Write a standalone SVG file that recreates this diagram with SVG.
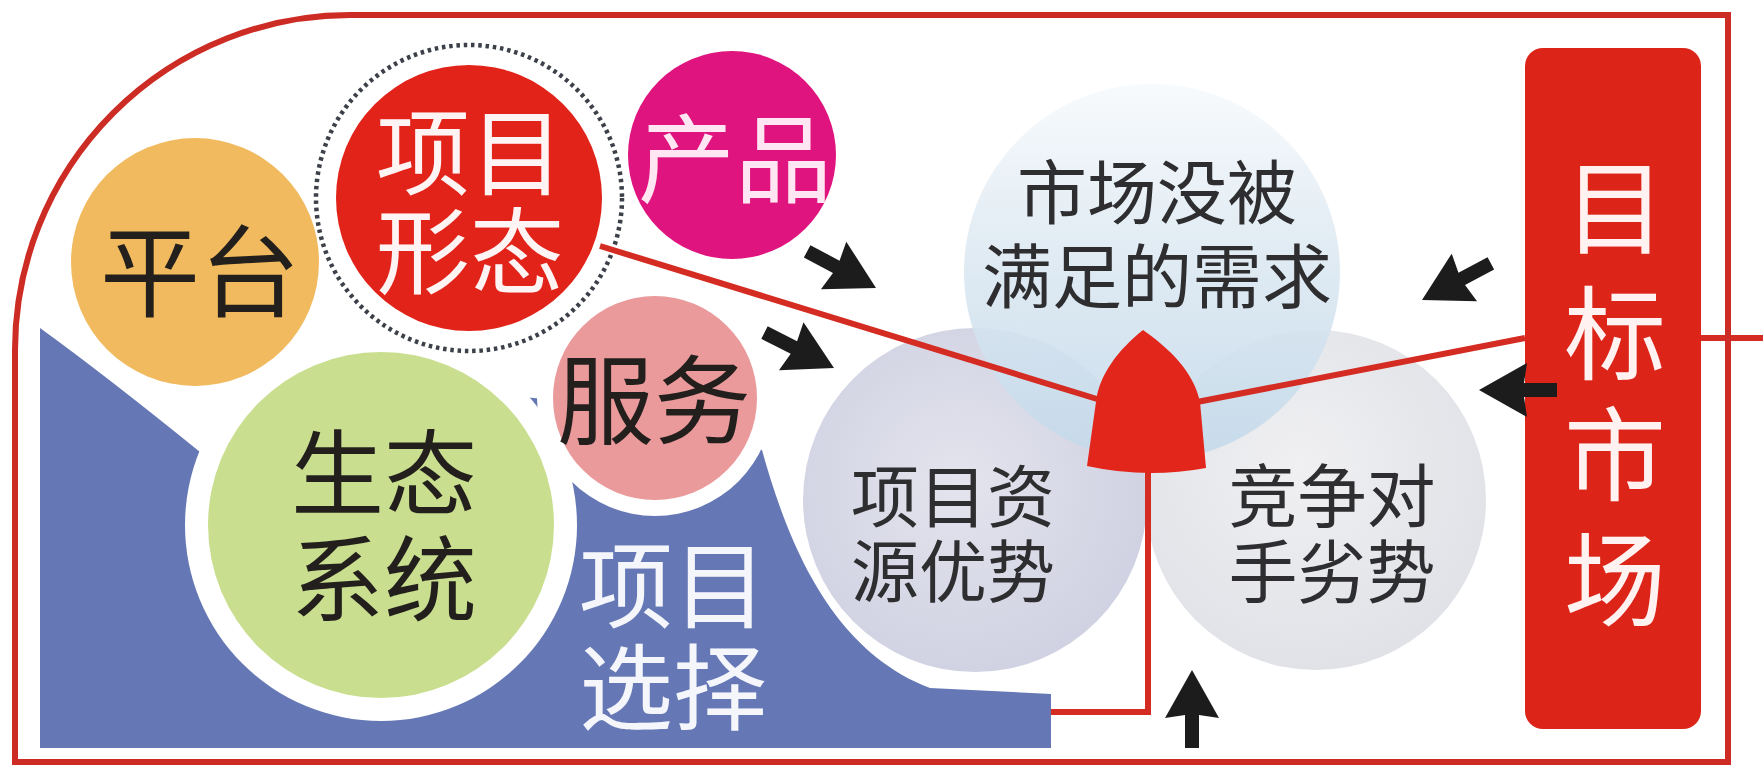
<svg xmlns="http://www.w3.org/2000/svg" xmlns:xlink="http://www.w3.org/1999/xlink" width="1763" height="768" viewBox="0 0 1763 768">
<style>
.t{font-family:"Noto Sans CJK SC","Noto Sans",sans-serif;text-anchor:middle;dominant-baseline:central}
.dk{fill:#231f1c}
.wh{fill:#fff4f4}
.vn{fill:#2e2e30}
.red{stroke:#d42b22;stroke-width:6;fill:none}
.halo{fill:#ffffff}
</style>
<defs>
<path id="arw" d="M0,0 L-48,-27 L-45,-7 L-78,-7 L-78,7 L-45,7 L-48,27 Z" fill="#1c1c1c"/>
<linearGradient id="gNeed" x1="0" y1="0" x2="0" y2="1">
<stop offset="0" stop-color="#f7fafc"/>
<stop offset="0.45" stop-color="#dde9f2"/>
<stop offset="1" stop-color="#c3d9ea"/>
</linearGradient>
<radialGradient id="gRes" cx="0.45" cy="0.45" r="0.6">
<stop offset="0" stop-color="#e4e4ee"/>
<stop offset="1" stop-color="#cfd0e1"/>
</radialGradient>
<radialGradient id="gCmp" cx="0.45" cy="0.4" r="0.6">
<stop offset="0" stop-color="#f0f0f2"/>
<stop offset="1" stop-color="#e0e2e7"/>
</radialGradient>
</defs>
<rect width="1763" height="768" fill="#ffffff"/>

<g id="project-choice">
<path d="M40,748 V328 Q105,375 200,452 L300,380 L560,400 L700,420 L762,450 C787,540 830,650 930,688 L1051,694 V748 Z" fill="#6578b5"/>
<circle class="halo" cx="381" cy="525" r="196"/>
<circle class="halo" cx="655" cy="398" r="118"/>
<text class="t" x="673" y="580" font-size="94" fill="#f4f6fb">项目</text>
<text class="t" x="673" y="682" font-size="94" fill="#f4f6fb">选择</text>
</g>

<g id="platform">
<circle cx="195" cy="262" r="124" fill="#f1ba5f"/>
<text class="t dk" x="200" y="265" font-size="100">平台</text>
</g>

<g id="project-form">
<circle cx="469" cy="198" r="153" fill="none" stroke="#3c4048" stroke-width="4.5" stroke-dasharray="3.5 3.8"/>
<circle cx="469" cy="198" r="133" fill="#e2231a"/>
<text class="t wh" x="470" y="147" font-size="94">项目</text>
<text class="t wh" x="470" y="246" font-size="94">形态</text>
</g>

<g id="product">
<circle cx="732" cy="155" r="104" fill="#e0147f"/>
<text class="t" x="735" y="152" font-size="97" fill="#ffe6f2">产品</text>
</g>

<g id="service">
<circle cx="655" cy="398" r="102" fill="#eb9a9c"/>
<text class="t dk" x="654" y="393" font-size="97">服务</text>
</g>

<g id="ecosystem">
<circle cx="381" cy="525" r="173" fill="#c9df8f"/>
<text class="t dk" x="384" y="467" font-size="93">生态</text>
<text class="t dk" x="384" y="573" font-size="93">系统</text>
</g>

<g id="competitor">
<circle cx="1316" cy="500" r="170" fill="url(#gCmp)"/>
<text class="t vn" x="1332" y="492" font-size="69">竞争对</text>
<text class="t vn" x="1332" y="568" font-size="69">手劣势</text>
</g>

<g id="resource">
<circle cx="975" cy="500" r="172" fill="url(#gRes)"/>
<text class="t vn" x="953" y="492" font-size="68">项目资</text>
<text class="t vn" x="953" y="567" font-size="68">源优势</text>
</g>

<g id="need">
<circle cx="1152" cy="272" r="188" fill="url(#gNeed)" opacity="0.9"/>
<text class="t vn" x="1157" y="188" font-size="70">市场没被</text>
<text class="t vn" x="1157" y="272" font-size="70">满足的需求</text>
</g>

<g id="target-market">
<rect x="1525" y="48" width="176" height="681" rx="18" fill="#dc2418"/>
<text class="t" x="1615" y="201" font-size="102" fill="#fff2f0">目</text>
<text class="t" x="1615" y="327" font-size="102" fill="#fff2f0">标</text>
<text class="t" x="1615" y="448" font-size="102" fill="#fff2f0">市</text>
<text class="t" x="1615" y="573" font-size="102" fill="#fff2f0">场</text>
</g>

<g id="connectors">
<line class="red" x1="600" y1="246" x2="1097" y2="399"/>
<polyline class="red" points="1197,402 1525,338"/>
<line class="red" x1="1701" y1="338" x2="1763" y2="338"/>
<polyline class="red" points="1148,468 1148,712 1051,712"/>
<path d="M1143,330 C1118,350 1099,375 1096,402 L1087,466 Q1146,479 1206,468 L1200,402 C1194,372 1169,348 1143,330 Z" fill="#e3261c"/>
<use xlink:href="#arw" transform="translate(876,288) rotate(28)"/>
<use xlink:href="#arw" transform="translate(834,368) rotate(27)"/>
<use xlink:href="#arw" transform="translate(1422,300) rotate(152)"/>
<use xlink:href="#arw" transform="translate(1479,390) rotate(180)"/>
<use xlink:href="#arw" transform="translate(1192,670) rotate(-90)"/>
</g>

<g id="frame">
<path d="M15,762 V350 A335,335 0 0 1 350,15 H1728 V762 Z" fill="none" stroke="#cc2c24" stroke-width="6"/>
</g>
</svg>
